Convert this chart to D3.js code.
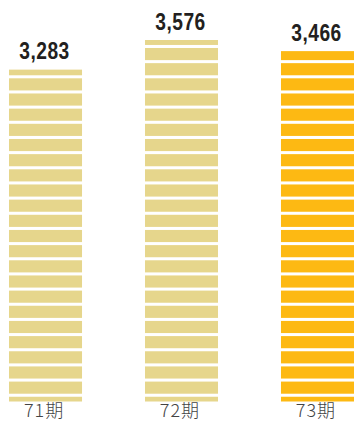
<!DOCTYPE html>
<html><head><meta charset="utf-8">
<script src="https://cdn.jsdelivr.net/npm/d3@7"></script>
<style>html,body{margin:0;padding:0;background:#fff;}svg{display:block;}</style>
</head><body>
<script>
const categories = ["71期", "72期", "73期"];
const values = [3283, 3576, 3466];
const labels = ["3,283", "3,576", "3,466"];
const colors = ["#E6D68C", "#E6D68C", "#FDB913"];
const stripeStep = 150, gapLo = 47, gapHi = 77;

const W = 354, H = 421;
const svg = d3.select("body").append("svg").attr("width", W).attr("height", H);

const x = d3.scaleBand().domain(categories).range([9, 354]).paddingInner(0.463).paddingOuter(0);
const y = d3.scaleLinear().domain([0, 3576]).range([401.5, 40]);

categories.forEach((c, i) => {
  const v = values[i];
  const segs = [];
  let lo = 0;
  for (let g = gapLo; lo < v; g += stripeStep) {
    const hi = Math.min(g, v);
    if (hi > lo) segs.push([lo, hi]);
    lo = g + (gapHi - gapLo);
  }
  svg.append("g").selectAll("rect").data(segs).join("rect")
    .attr("x", x(c)).attr("width", x.bandwidth())
    .attr("y", d => y(d[1])).attr("height", d => y(d[0]) - y(d[1]))
    .attr("fill", colors[i]);
  const cx = x(c) + x.bandwidth() / 2;
  svg.append("text")
    .attr("transform", `translate(${cx - 1},${y(v) - 10.5}) scale(0.8,1)`)
    .attr("text-anchor", "middle")
    .attr("font-family", "'Liberation Sans', Arial, sans-serif")
    .attr("font-weight", "bold").attr("font-size", 24)
    .attr("letter-spacing", 0.6)
    .attr("fill", "#231f20")
    .text(labels[i]);
  svg.append("text")
    .attr("x", cx - 1.5).attr("y", 417)
    .attr("text-anchor", "middle")
    .attr("font-family", "'Noto Sans CJK JP', sans-serif")
    .attr("font-weight", 300).attr("font-size", 18)
    .attr("letter-spacing", 1)
    .attr("fill", "#444")
    .text(c);
});
</script>
</body></html>
